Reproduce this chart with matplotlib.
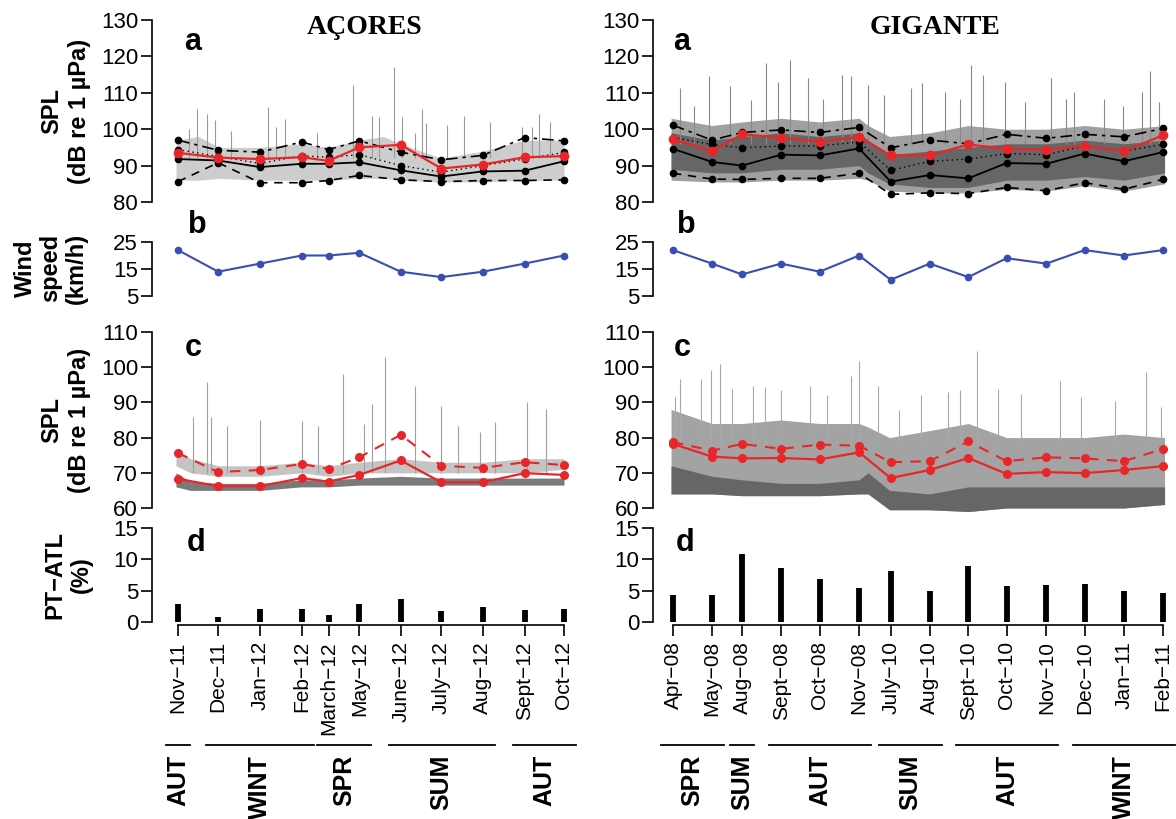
import numpy as np
import matplotlib
matplotlib.use("Agg")
import matplotlib.pyplot as plt
from matplotlib.lines import Line2D

plt.rcParams['font.family'] = ['Liberation Sans', 'DejaVu Sans']

W, H = 1176, 819
RED = '#e8262a'
BLUE = '#3a4db0'

# ---- sampling months (x = months since first sample) ----
acores_months = ["Nov\u221211", "Dec\u221211", "Jan\u221212", "Feb\u221212", "March\u221212", "May\u221212",
                 "June\u221212", "July\u221212", "Aug\u221212", "Sept\u221212", "Oct\u221212"]
acores_x = [0, 0.98, 2.0, 3.02, 3.67, 4.42, 5.43, 6.42, 7.43, 8.45, 9.41]

gigante_months = ["Apr\u221208", "May\u221208", "Aug\u221208", "Sept\u221208", "Oct\u221208", "Nov\u221208",
                  "July\u221210", "Aug\u221210", "Sept\u221210", "Oct\u221210", "Nov\u221210", "Dec\u221210",
                  "Jan\u221211", "Feb\u221211"]
gigante_x = [0, 1.0, 1.77, 2.77, 3.76, 4.77, 5.58, 6.58, 7.57, 8.55, 9.57, 10.55, 11.56, 12.56]

# ---- a: broadband SPL statistics ----
acores_mean = [93.5, 92.2, 91.8, 92.3, 91.3, 95.0, 95.7, 89.2, 90.3, 92.3, 92.6]
acores_p95 = [97.0, 94.2, 93.7, 96.5, 94.4, 96.8, 93.7, 91.6, 92.8, 97.7, 96.8]
acores_p75 = [94.4, 92.5, 90.6, 92.7, 92.3, 93.0, 90.0, 88.2, 90.0, 91.8, 93.6]
acores_p50 = [91.8, 91.4, 89.6, 90.5, 90.5, 90.9, 88.7, 87.0, 88.4, 88.6, 91.2]
acores_p05 = [85.6, 90.8, 85.3, 85.3, 85.9, 87.3, 86.1, 85.6, 85.9, 85.9, 86.1]

gigante_mean = [97.2, 94.0, 98.6, 97.7, 96.5, 97.9, 92.8, 92.8, 95.8, 94.6, 94.4, 95.4, 94.0, 98.3]
gigante_p95 = [101.1, 97.0, 99.1, 99.8, 99.1, 100.5, 94.9, 97.0, 96.0, 98.6, 97.5, 98.6, 97.9, 100.2]
gigante_p75 = [97.7, 95.8, 94.9, 95.4, 95.4, 96.5, 88.7, 91.2, 91.8, 93.3, 93.0, 95.4, 94.0, 95.8]
gigante_p50 = [94.6, 91.0, 90.0, 93.0, 92.8, 94.7, 85.6, 87.4, 86.5, 90.7, 90.5, 93.3, 91.2, 93.7]
gigante_p05 = [87.9, 86.3, 86.2, 86.5, 86.5, 87.9, 82.1, 82.5, 82.3, 84.0, 83.1, 85.3, 83.5, 86.2]

# raw broadband SPL record: envelope and peaks
acores_a_env_x = [-0.05, 0.5, 1.0, 2.0, 3.0, 3.67, 4.42, 5.0, 5.43, 6.42, 7.43, 8.45, 9.41]
acores_a_lo = [86, 86, 86.5, 86, 86, 86, 86.5, 86.5, 86, 85.5, 85.5, 86, 86]
acores_a_hi = [97, 98, 95, 95, 96, 95, 97, 98, 96, 92, 94, 97, 97]
acores_a_peak_x = [0.27, 0.46, 0.71, 0.9, 1.28, 2.2, 2.38, 2.61, 3.39, 4.26, 4.72, 4.9, 5.27, 5.45,
                   5.77, 5.94, 6.05, 6.55, 6.97, 7.61, 8.39, 8.62, 8.8, 9.07]
acores_a_peak = [100, 105.6, 104.2, 102.4, 99.5, 106.1, 100.5, 102.8, 99, 112.1, 103.7, 103.3, 117, 103.3,
                 99, 105.6, 101.7, 101.1, 103.7, 101.9, 100.5, 100.5, 104.2, 101.9]

gigante_env_x = [-0.05, 1.0, 1.77, 2.77, 3.76, 4.77, 5.0, 5.55, 6.58, 7.57, 8.55, 9.57, 10.55, 11.56, 12.6]
gigante_a_hi = [103, 101, 102, 103, 102, 103, 101, 98, 99, 101, 100, 100, 101, 100, 101]
gigante_a_lo = [86, 85.5, 85.5, 86, 86, 86.5, 86, 83, 82.5, 82.5, 83.5, 83, 84.5, 83, 85]
gigante_a_core_hi = [99, 97, 98, 99, 98, 99, 97, 93, 94, 95, 96, 96, 97, 96, 97]
gigante_a_core_lo = [89, 88, 88, 89, 89, 90, 88, 85, 84, 84, 86, 86, 87, 86, 88]
gigante_a_peak_x = [0.17, 0.54, 0.93, 1.46, 2.0, 2.39, 2.68, 3.0, 3.46, 3.85, 4.33, 4.56, 5.01, 5.4, 6.09,
                    6.38, 6.96, 7.35, 7.64, 7.94, 8.52, 9.01, 9.69, 10.08, 10.27, 11.05, 11.54, 12.03,
                    12.22, 12.46]
gigante_a_peak = [111.2, 106.5, 114.5, 111.9, 107.9, 118.2, 113.1, 119.1, 114, 108.4, 114.9, 114.5, 112.1,
                  109.3, 111.2, 112.6, 110.3, 108.4, 117.7, 114.9, 113.1, 107.5, 114, 108.4, 110.3, 108.4,
                  106.5, 110.3, 115.9, 107.5]

# ---- b: wind speed (km/h) ----
acores_wind = [22, 14, 17, 20, 20, 21, 14, 12, 14, 17, 20]
gigante_wind = [22, 17, 13, 17, 14, 20, 11, 17, 12, 19, 17, 22, 20, 22]

# ---- c: low-frequency SPL ----
acores_c_mean = [75.6, 70.2, 70.8, 72.5, 71.1, 74.4, 80.8, 72.0, 71.4, 73.0, 72.2]
acores_c_median = [68.3, 66.2, 66.2, 68.5, 67.5, 69.4, 73.5, 67.3, 67.3, 69.9, 69.4]
gigante_c_mean = [78.7, 76.3, 78.2, 76.8, 78.0, 77.7, 73.0, 73.3, 78.9, 73.3, 74.4, 74.1, 73.3, 76.8]
gigante_c_median = [78.2, 74.6, 74.1, 74.2, 73.8, 75.8, 68.5, 70.8, 74.2, 69.7, 70.2, 69.9, 70.8, 71.9]

acores_c_env_x = [-0.05, 0.3, 1.0, 2.0, 3.0, 3.67, 4.42, 5.43, 6.42, 7.43, 8.45, 9.41]
acores_c_light_lo = [72, 70, 69, 69, 70, 69, 70, 70, 70, 70, 70, 71]
acores_c_light_hi = [77, 74, 72, 72, 73, 72, 73, 74, 73, 73, 74, 74]
acores_c_dark_lo = [66, 65, 65, 65, 66, 66, 66.5, 66.5, 66.5, 66.5, 66.5, 66.5]
acores_c_dark_hi = [70, 67.5, 67, 67, 68, 68, 68.5, 69, 68.5, 68.5, 68.5, 68.5]
acores_c_peak_x = [0.37, 0.71, 0.8, 1.19, 2.0, 3.02, 3.42, 4.03, 4.54, 4.72, 5.04, 5.77, 6.42, 6.83,
                   7.36, 7.73, 8.5, 8.96]
acores_c_peak = [85.8, 95.8, 85.8, 83.4, 84.9, 84.6, 83.4, 98.1, 83.9, 89.6, 102.9, 94.8, 89.1, 83.4,
                 81.5, 84.4, 90.1, 88.2]

gigante_c_hi = [88, 84, 84, 85, 84, 84, 83, 80, 82, 84, 80, 80, 80, 81, 80]
gigante_c_lo = [64, 64, 63.5, 63.5, 63.5, 64, 64, 59.5, 59.5, 59, 60, 60, 60, 60, 61]
gigante_c_dark_hi = [72, 69, 68, 67, 67, 68, 70, 65, 64, 66, 66, 66, 66, 66, 66]
gigante_c_peak_x = [0.05, 0.19, 0.73, 0.97, 1.2, 1.51, 2.04, 2.37, 2.78, 3.5, 3.94, 4.56, 4.77, 5.26,
                    5.79, 6.36, 7.06, 7.35, 7.79, 8.33, 8.91, 9.93, 10.47, 11.34, 12.12, 12.51]
gigante_c_peak = [91.5, 96.7, 96.7, 99.1, 101, 93.9, 94.8, 94.3, 93.4, 94.8, 92, 97.5, 101.7, 94.8,
                  87.7, 92, 92.9, 93.4, 104.5, 93.9, 92.4, 96.2, 91.5, 90.5, 98.6, 88.7]

# ---- d: PT-ATL detection rate (%) ----
acores_ptatl = [2.8, 0.8, 2.1, 2.0, 1.1, 2.9, 3.75, 1.7, 2.4, 1.9, 2.0]
gigante_ptatl = [4.3, 4.25, 10.9, 8.6, 6.8, 5.5, 8.2, 5.0, 9.0, 5.8, 5.9, 6.1, 4.95, 4.7]

# ---- seasons (first and last sample index) ----
acores_seasons = [("AUT", 0, 0), ("WINT", 1, 3), ("SPR", 4, 5), ("SUM", 6, 8), ("AUT", 9, 10)]
gigante_seasons = [("SPR", 0, 1), ("SUM", 2, 2), ("AUT", 3, 5), ("SUM", 6, 7), ("AUT", 8, 10), ("WINT", 11, 13)]

fig = plt.figure(figsize=(W / 100, H / 100), dpi=100)


def make_ax(xcal, ycal, xlim, ylim):
    # xcal / ycal: (value0, pixel0, value1, pixel1)
    v0, p0, v1, p1 = xcal
    sx = (p1 - p0) / (v1 - v0)
    left = p0 + (xlim[0] - v0) * sx
    right = p0 + (xlim[1] - v0) * sx
    v0, p0, v1, p1 = ycal
    sy = (p1 - p0) / (v1 - v0)
    top = p0 + (ylim[1] - v0) * sy
    bottom = p0 + (ylim[0] - v0) * sy
    ax = fig.add_axes([left / W, 1 - bottom / H, (right - left) / W, (bottom - top) / H])
    ax.set_xlim(xlim)
    ax.set_ylim(ylim)
    ax.patch.set_alpha(0)
    for s in ['top', 'right', 'bottom']:
        ax.spines[s].set_visible(False)
    ax.spines['left'].set_linewidth(1.2)
    ax.set_xticks([])
    ax.tick_params(axis='y', direction='out', length=8, width=1.2, labelsize=16, pad=2)
    return ax


def ftext(x, y, s, **kw):
    fig.text(x / W, 1 - y / H, s, **kw)


columns = [
    dict(x=acores_x, xcal=(0, 178, 9.41, 564), xlim=(-0.634, 9.786), months=acores_months,
         mean=acores_mean, p95=acores_p95, p75=acores_p75, p50=acores_p50, p05=acores_p05,
         wind=acores_wind, cmean=acores_c_mean, cmed=acores_c_median, pt=acores_ptatl,
         seasons=acores_seasons, title="A\u00c7ORES", title_x=365, letter_x=193),
    dict(x=gigante_x, xcal=(0, 673, 12.56, 1163), xlim=(-0.5, 13.06), months=gigante_months,
         mean=gigante_mean, p95=gigante_p95, p75=gigante_p75, p50=gigante_p50, p05=gigante_p05,
         wind=gigante_wind, cmean=gigante_c_mean, cmed=gigante_c_median, pt=gigante_ptatl,
         seasons=gigante_seasons, title="GIGANTE", title_x=935, letter_x=682),
]

for ci, col in enumerate(columns):
    x = col['x']
    # panel a
    ax = make_ax(col['xcal'], (80, 202, 130, 20), col['xlim'], (78, 132))
    ax.spines['left'].set_bounds(80, 130)
    ax.set_yticks([80, 90, 100, 110, 120, 130])
    if ci == 0:
        ax.fill_between(acores_a_env_x, acores_a_lo, acores_a_hi, color='#cdcdcd', lw=0)
        ax.vlines(acores_a_peak_x, 92, acores_a_peak, color='#9a9a9a', lw=0.8)
    else:
        ax.fill_between(gigante_env_x, gigante_a_lo, gigante_a_hi, color='#a0a0a0', lw=0)
        ax.fill_between(gigante_env_x, gigante_a_core_lo, gigante_a_core_hi, color='#666666', lw=0)
        ax.vlines(gigante_a_peak_x, 96, gigante_a_peak, color='#8a8a8a', lw=0.8)
    ax.plot(x, col['p95'], color='black', lw=1.2, ls=(0, (7, 3, 2, 3)), marker='o', ms=4.5)
    ax.plot(x, col['p75'], color='black', lw=1.0, ls=(0, (1, 2.5)), marker='o', ms=4.5)
    ax.plot(x, col['p50'], color='black', lw=1.3, marker='o', ms=4.5)
    ax.plot(x, col['p05'], color='black', lw=1.2, ls=(0, (5, 4)), marker='o', ms=4.5)
    ax.plot(x, col['mean'], color=RED, lw=1.6, marker='o', ms=6)
    ftext(col['letter_x'], 42, 'a', fontsize=22, fontweight='bold', ha='center', va='center')
    ftext(col['title_x'], 27, col['title'], fontsize=20, fontweight='bold', ha='center', va='center',
          family=['Liberation Serif', 'DejaVu Serif'])

    # panel b
    ax = make_ax(col['xcal'], (5, 296, 25, 242), col['xlim'], (4, 26))
    ax.spines['left'].set_bounds(5, 25)
    ax.set_yticks([5, 15, 25])
    ax.plot(x, col['wind'], color=BLUE, lw=1.5, marker='o', ms=4.5)
    ftext(col['letter_x'] + 4, 225, 'b', fontsize=22, fontweight='bold', ha='center', va='center')

    # panel c
    ax = make_ax(col['xcal'], (60, 508, 110, 332), col['xlim'], (58, 112))
    ax.spines['left'].set_bounds(60, 110)
    ax.set_yticks([60, 70, 80, 90, 100, 110])
    if ci == 0:
        ax.fill_between(acores_c_env_x, acores_c_light_lo, acores_c_light_hi, color='#c4c4c4', lw=0)
        ax.fill_between(acores_c_env_x, acores_c_dark_lo, acores_c_dark_hi, color='#7a7a7a', lw=0)
        ax.vlines(acores_c_peak_x, 70, acores_c_peak, color='#a0a0a0', lw=0.8)
    else:
        ax.fill_between(gigante_env_x, gigante_c_lo, gigante_c_hi, color='#a3a3a3', lw=0)
        ax.fill_between(gigante_env_x, gigante_c_lo, gigante_c_dark_hi, color='#666666', lw=0)
        ax.vlines(gigante_c_peak_x, 78, gigante_c_peak, color='#a8a8a8', lw=0.8)
    ax.plot(x, col['cmean'], color=RED, lw=1.5, ls=(0, (5, 4)), marker='o', ms=5.5)
    ax.plot(x, col['cmed'], color=RED, lw=1.6, marker='o', ms=5.5)
    ftext(col['letter_x'], 348, 'c', fontsize=22, fontweight='bold', ha='center', va='center')

    # panel d
    ax = make_ax(col['xcal'], (0, 622, 15, 528), col['xlim'], (-0.4, 16))
    ax.spines['left'].set_bounds(0, 15)
    ax.spines['bottom'].set_visible(True)
    ax.spines['bottom'].set_linewidth(1.2)
    ax.spines['bottom'].set_bounds(x[0], x[-1])
    ax.set_yticks([0, 5, 10, 15])
    ax.vlines(x, 0, col['pt'], color='black', lw=4.2)
    ax.set_xticks(x)
    ax.set_xticklabels(col['months'], rotation=90, fontsize=15)
    ax.tick_params(axis='x', direction='out', length=8, width=1.2, pad=4)
    ftext(col['letter_x'] + 3, 543, 'd', fontsize=22, fontweight='bold', ha='center', va='center')

    # season bars under the month labels
    v0, p0, v1, p1 = col['xcal']
    sx = (p1 - p0) / (v1 - v0)
    for name, i0, i1 in col['seasons']:
        xa = p0 + (x[i0] - v0) * sx - 12
        xb = min(p0 + (x[i1] - v0) * sx + 12, W)
        fig.add_artist(Line2D([xa / W, xb / W], [1 - 745 / H, 1 - 745 / H], color='black', lw=1.3))
        ftext((xa + xb) / 2, 755, name, rotation=90, fontsize=18, fontweight='bold', ha='center', va='top')

# y-axis titles on the left
ftext(66, 111, "SPL\n(dB re 1 \u00b5Pa)", rotation=90, fontsize=17, fontweight='bold',
      ha='center', va='center', multialignment='center', linespacing=1.25)
ftext(51, 268, "Wind\nspeed\n(km/h)", rotation=90, fontsize=17, fontweight='bold',
      ha='center', va='center', multialignment='center', linespacing=1.15)
ftext(66, 420, "SPL\n(dB re 1 \u00b5Pa)", rotation=90, fontsize=17, fontweight='bold',
      ha='center', va='center', multialignment='center', linespacing=1.25)
ftext(68, 575, "PT\u2212ATL\n(%)", rotation=90, fontsize=17, fontweight='bold',
      ha='center', va='center', multialignment='center', linespacing=1.2)

fig.savefig("out.png", dpi=100)
